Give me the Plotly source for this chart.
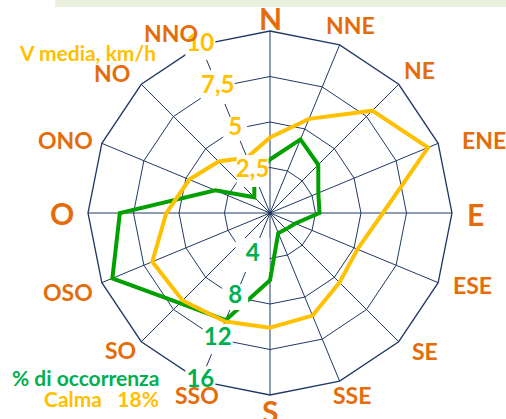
import plotly.graph_objects as go

directions = ["N", "NNE", "NE", "ENE", "E", "ESE", "SE", "SSE",
              "S", "SSO", "SO", "OSO", "O", "ONO", "NO", "NNO"]
v_media = [4.15, 5.6, 7.95, 9.4, 6.2, 5.2, 5.4, 6.1,
           6.3, 6.45, 6.8, 7.0, 5.7, 4.8, 4.0, 3.3]
occorrenza = [4.7, 7.0, 6.0, 4.6, 4.35, 2.4, 2.0, 1.9,
              5.9, 10.2, 11.2, 15.0, 13.2, 5.2, 1.95, 3.6]
v_ticks = [2.5, 5, 7.5, 10]
v_ticklabels = ["2,5", "5", "7,5", "10"]
occ_ticks = [4, 8, 12, 16]
occ_ticklabels = ["4", "8", "12", "16"]
big_dirs = ["N", "E", "S", "O"]

# layout: pixel centres of the direction labels (x from left, y from top)
label_px = [(270, 18), (350, 25), (419, 70), (484, 140), (475, 214), (472, 285),
            (425, 351), (352, 395), (270, 411), (197, 395), (120, 350), (68, 292),
            (62, 213), (65, 140), (112, 73), (171, 33)]

W, H = 506, 419
ORANGE = "#E46C0A"
YELLOW = "#FFC000"
GREEN_LINE = "#00A000"
GREEN_TEXT = "#00B050"
NAVY = "#203864"
FONT = "Lato"

fig = go.Figure()

# green series on base polar (0-16)
fig.add_trace(go.Scatterpolar(
    r=occorrenza + occorrenza[:1], theta=directions + directions[:1],
    mode="lines", line=dict(color=GREEN_LINE, width=4),
    subplot="polar", showlegend=False, hoverinfo="skip"))

# yellow series on polar2 (0-10)
fig.add_trace(go.Scatterpolar(
    r=v_media + v_media[:1], theta=directions + directions[:1],
    mode="lines", line=dict(color=YELLOW, width=4),
    subplot="polar2", showlegend=False, hoverinfo="skip"))

# white boxes + yellow scale labels
fig.add_trace(go.Scatterpolar(
    r=v_ticks, theta=["NNO"] * len(v_ticks), mode="markers",
    marker=dict(symbol="square", size=[32, 24, 34, 30], color="#FFFFFF",
                opacity=1, line=dict(width=0)),
    cliponaxis=False, subplot="polar2", showlegend=False, hoverinfo="skip"))
fig.add_trace(go.Scatterpolar(
    r=v_ticks, theta=["NNO"] * len(v_ticks), mode="text",
    text=v_ticklabels, textposition="middle center",
    textfont=dict(family=FONT, size=24, color=YELLOW, weight="bold"),
    cliponaxis=False, subplot="polar2", showlegend=False, hoverinfo="skip"))

# white boxes + green scale labels
fig.add_trace(go.Scatterpolar(
    r=occ_ticks, theta=["SSO"] * len(occ_ticks), mode="markers",
    marker=dict(symbol="square", size=[34, 26, 30, 30], color="#FFFFFF",
                opacity=1, line=dict(width=0)),
    cliponaxis=False, subplot="polar3", showlegend=False, hoverinfo="skip"))
fig.add_trace(go.Scatterpolar(
    r=occ_ticks, theta=["SSO"] * len(occ_ticks), mode="text",
    text=occ_ticklabels, textposition="middle center",
    textfont=dict(family=FONT, size=24, color=GREEN_TEXT, weight="bold"),
    cliponaxis=False, subplot="polar3", showlegend=False, hoverinfo="skip"))

R = 182
domain = dict(x=[(270 - R) / W, (270 + R) / W],
              y=[(206 - R) / H, (206 + R) / H])

hidden_ang = dict(type="category", categoryarray=directions, rotation=90,
                  direction="clockwise", showgrid=False, showline=False,
                  showticklabels=False, ticks="")

annotations = [
    dict(text=d, xref="paper", yref="paper", x=px / W, y=1 - py / H,
         xanchor="center", yanchor="middle", showarrow=False,
         font=dict(family=FONT, size=30 if d in big_dirs else 23,
                   color=ORANGE, weight="bold"))
    for d, (px, py) in zip(directions, label_px)
]
annotations += [
    dict(text="V media, km/h", xref="paper", yref="paper",
         x=87 / W, y=1 - 52 / H, xanchor="center", yanchor="middle",
         showarrow=False, font=dict(family=FONT, size=21, color=YELLOW, weight="bold")),
    dict(text="% di occorrenza", xref="paper", yref="paper",
         x=161 / W, y=1 - 377 / H, xanchor="right", yanchor="middle",
         showarrow=False, font=dict(family=FONT, size=21, color=GREEN_TEXT, weight="bold")),
    dict(text="Calma&nbsp;&nbsp; 18%", xref="paper", yref="paper",
         x=161 / W, y=1 - 398 / H, xanchor="right", yanchor="middle",
         showarrow=False, font=dict(family=FONT, size=21, color=YELLOW, weight="bold")),
]

fig.update_layout(
    width=W, height=H,
    margin=dict(l=0, r=0, t=0, b=0),
    paper_bgcolor="white",
    polar=dict(
        domain=domain, bgcolor="white", gridshape="linear",
        radialaxis=dict(range=[0, 16], tickvals=occ_ticks, showticklabels=False,
                        ticks="", showline=False, gridcolor=NAVY, gridwidth=1.3,
                        layer="below traces"),
        angularaxis=dict(type="category", categoryarray=directions, rotation=90,
                         direction="clockwise", showticklabels=False,
                         ticks="", showline=True, linecolor=NAVY, linewidth=1.3,
                         gridcolor=NAVY, gridwidth=1.3, layer="below traces"),
    ),
    polar2=dict(
        domain=domain, bgcolor="rgba(0,0,0,0)", gridshape="linear",
        radialaxis=dict(range=[0, 10], showgrid=False, showline=False,
                        showticklabels=False, ticks=""),
        angularaxis=hidden_ang,
    ),
    polar3=dict(
        domain=domain, bgcolor="rgba(0,0,0,0)", gridshape="linear",
        radialaxis=dict(range=[0, 16], showgrid=False, showline=False,
                        showticklabels=False, ticks=""),
        angularaxis=hidden_ang,
    ),
    shapes=[dict(type="rect", xref="paper", yref="paper",
                 x0=55 / W, x1=1, y0=1 - 7 / H, y1=1,
                 fillcolor="#EBF1DE", line=dict(width=0), layer="below")],
    annotations=annotations,
)

fig.write_html("out.html", config={"displayModeBar": False},
               post_script="document.body.style.margin='0';")
